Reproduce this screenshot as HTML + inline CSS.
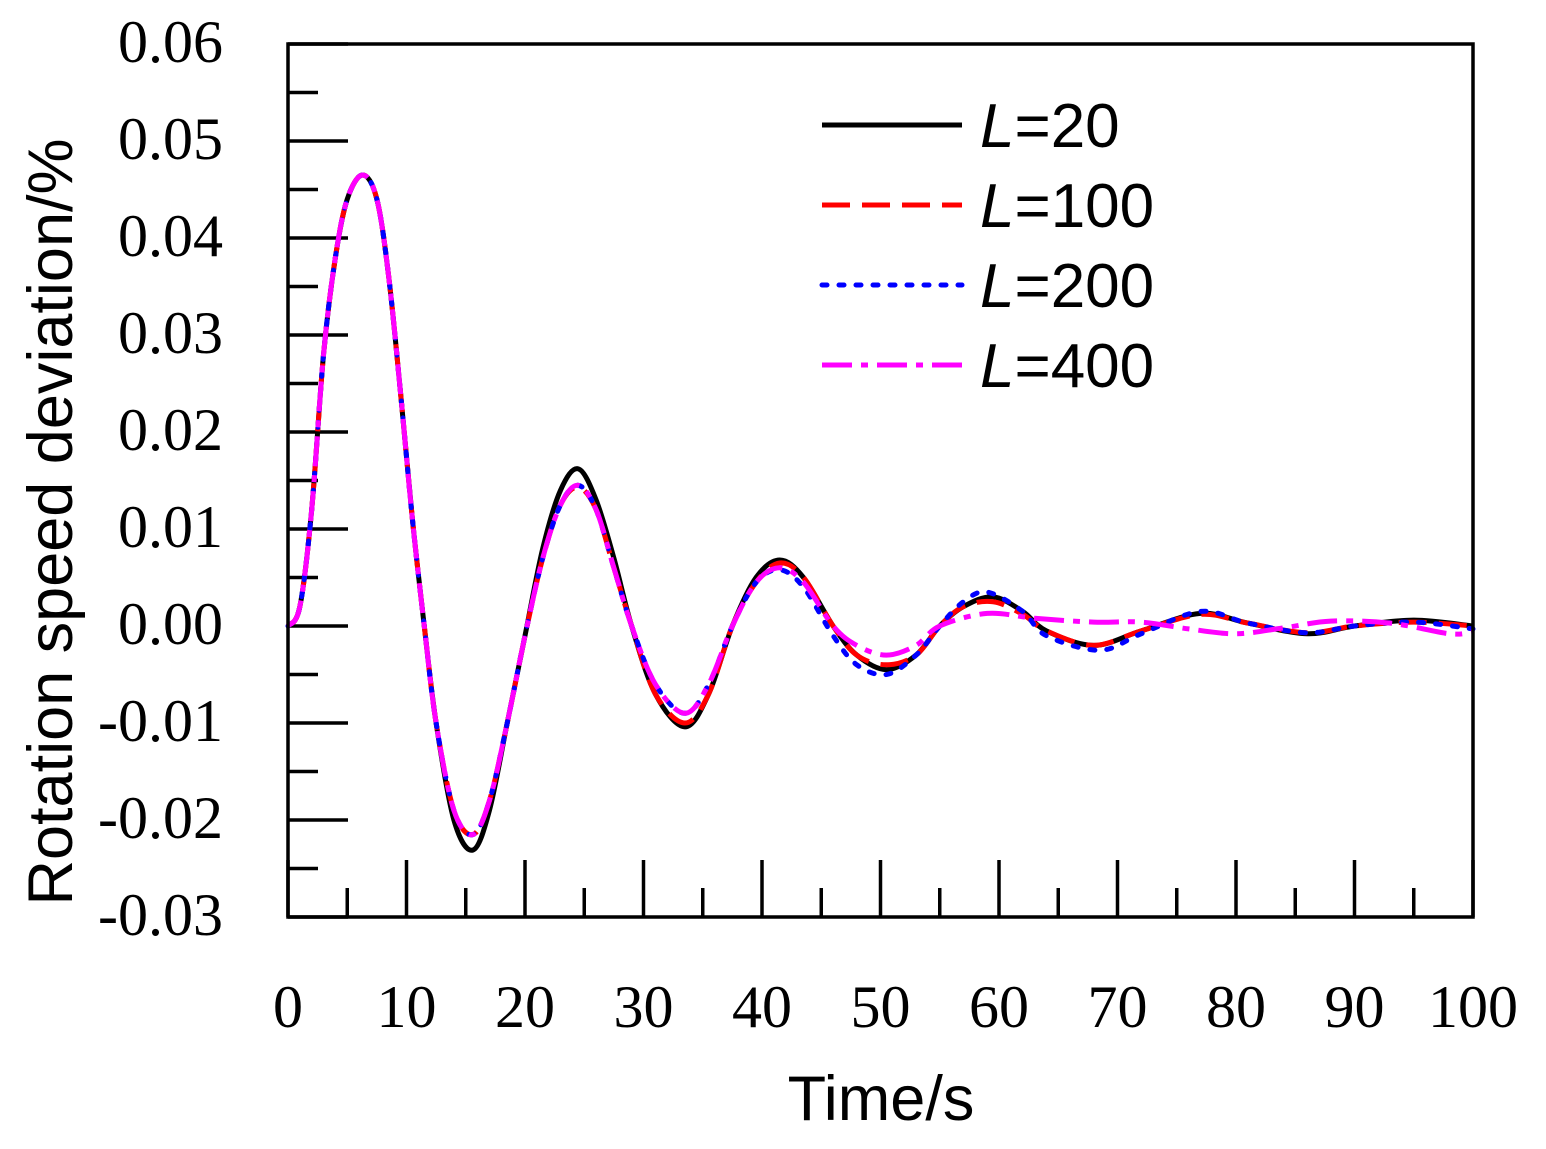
<!DOCTYPE html>
<html><head><meta charset="utf-8"><style>
html,body{margin:0;padding:0;background:#fff;}
svg{display:block;}
</style></head><body>
<svg id="chart" width="1546" height="1149" xmlns="http://www.w3.org/2000/svg">
<rect x="0" y="0" width="1546" height="1149" fill="#fff"/>
<g id="grid"></g>
<g id="series"></g>
<rect x="288" y="44" width="1185" height="873" fill="none" stroke="#000" stroke-width="3.5"/>
<g id="legend"></g>
<text x="881" y="1120" font-family="Liberation Sans, sans-serif" font-size="63" text-anchor="middle">Time/s</text>
<text transform="translate(72,522) rotate(-90)" font-family="Liberation Sans, sans-serif" font-size="63" text-anchor="middle">Rotation speed deviation/%</text>
</svg>
<script>
const xTicks = [0,10,20,30,40,50,60,70,80,90,100];
const yTicks = [-0.03,-0.02,-0.01,0.00,0.01,0.02,0.03,0.04,0.05,0.06];
const yTickLabels = ["-0.03","-0.02","-0.01","0.00","0.01","0.02","0.03","0.04","0.05","0.06"];
const seriesNames = ["L=20","L=100","L=200","L=400"];
const t20 = [0,1,2,3,4,5,6.3,7.5,8.5,9.5,10.5,11.5,12.5,14,15.6,17,18.5,20,21.5,23,24.5,26,27.5,29,31,33.5,35.5,37.5,39.5,41.5,43.5,46,48,50.5,53,55,57,59.5,62,64,68,72,77,81,86,90,95,100];
const v20 = [0,0.002,0.012,0.028,0.038,0.044,0.0465,0.044,0.036,0.024,0.011,0.0,-0.010,-0.020,-0.0231,-0.019,-0.010,-0.001,0.008,0.014,0.0162,0.013,0.007,0.0,-0.007,-0.0104,-0.007,0.0,0.005,0.0068,0.005,0.0,-0.003,-0.0045,-0.003,0.0,0.002,0.003,0.0015,-0.0005,-0.002,-0.0005,0.0013,0.0003,-0.0008,0.0,0.0006,0.0];
const t100 = [0,1,2,3,4,5,6.3,7.5,8.5,9.5,10.5,11.5,12.5,14,15.6,17,18.5,20,21.5,23,24.5,26,27.5,29,31,33.5,35.5,37.5,39.5,41.5,43.5,46,48,50.5,53,55,57,59.5,62,64,68,72,77,81,86,90,95,100];
const v100 = [0,0.002,0.012,0.028,0.038,0.044,0.0465,0.044,0.036,0.024,0.011,0.0,-0.010,-0.019,-0.0215,-0.018,-0.010,-0.001,0.007,0.0125,0.0143,0.012,0.006,0.0,-0.007,-0.0100,-0.007,0.0,0.0045,0.0065,0.005,0.0,-0.003,-0.0040,-0.003,0.0,0.002,0.0025,0.0012,-0.0005,-0.002,-0.0005,0.0012,0.0003,-0.0007,0.0,0.0004,0.0];
const t200 = [0,1,2,3,4,5,6.3,7.5,8.5,9.5,10.5,11.5,12.5,14,15.6,17,18.5,20,21.5,23,24.5,26,27.5,29,31,33.5,35.5,37.5,39.5,41.5,43.5,46,48,50.5,53,55,57,59,62,64,68.5,72,77,81,86,90,95,100];
const v200 = [0,0.002,0.012,0.028,0.038,0.044,0.0465,0.044,0.036,0.024,0.011,0.0,-0.010,-0.019,-0.0215,-0.018,-0.010,-0.001,0.007,0.0125,0.0145,0.012,0.006,0.0,-0.006,-0.0090,-0.006,0.0,0.0045,0.0058,0.004,-0.001,-0.004,-0.0050,-0.003,0.0,0.0025,0.0035,0.0015,-0.001,-0.0025,-0.0008,0.0015,0.0003,-0.0007,0.0,0.0004,-0.0003];
const t400 = [0,1,2,3,4,5,6.3,7.5,8.5,9.5,10.5,11.5,12.5,14,15.6,17,18.5,20,21.5,23,24.5,26,27.5,29,31,33.5,35.5,37.5,39.5,41.5,43.5,46,48,50.5,53,55,59,63,68,72,76,80,84,88,93,98,100];
const v400 = [0,0.002,0.012,0.028,0.038,0.044,0.0465,0.044,0.036,0.024,0.011,0.0,-0.010,-0.019,-0.0215,-0.018,-0.010,-0.001,0.007,0.0125,0.0145,0.012,0.006,0.0,-0.006,-0.0090,-0.006,0.0,0.0045,0.0060,0.0045,0.0,-0.002,-0.0030,-0.002,0.0,0.0013,0.0008,0.0004,0.0004,-0.0003,-0.0008,-0.0002,0.0005,0.0003,-0.0008,-0.0006];
const styles = [
 {c:"#000",d:""},
 {c:"#ff0000",d:"28 12"},
 {c:"#0000ff",d:"5 12"},
 {c:"#ff00ff",d:"30 9 7 9"}
];
const X = t => 288 + t*(1185/100);
const Y = v => 626 - v*9700;
const NS = "http://www.w3.org/2000/svg";
const grid = document.getElementById('grid');
function mk(tag, attrs, parent){const e=document.createElementNS(NS,tag);for(const k in attrs)e.setAttribute(k,attrs[k]);parent.appendChild(e);return e;}
for(let i=0;i<yTicks.length;i++){
  const y=Y(yTicks[i]);
  const l=mk('line',{x1:288,x2:348,y1:y,y2:y,stroke:'#000','stroke-width':3.5},grid);
  
  
  if(i<yTicks.length-1){
    const ym=Y(yTicks[i]+0.005);
    const m=mk('line',{x1:288,x2:318,y1:ym,y2:ym,stroke:'#000','stroke-width':3.5},grid);
    
    
  }
  const t=mk('text',{x:223,y:y+18,'text-anchor':'end','font-family':'Liberation Serif, serif','font-size':60},grid);
  t.textContent=yTickLabels[i];
  
  
}
for(let i=0;i<xTicks.length;i++){
  const x=X(xTicks[i]);
  const l=mk('line',{x1:x,x2:x,y1:917,y2:860,stroke:'#000','stroke-width':3.5},grid);
  
  
  if(i<xTicks.length-1){
    const xm=X(xTicks[i]+5);
    const m=mk('line',{x1:xm,x2:xm,y1:917,y2:888,stroke:'#000','stroke-width':3.5},grid);
    
    
  }
  const t=mk('text',{x:x,y:1027,'text-anchor':'middle','font-family':'Liberation Serif, serif','font-size':60},grid);
  t.textContent=String(xTicks[i]);
  
  
}
function pathFrom(ts,vs){
  const p=ts.map((t,i)=>[X(t),Y(vs[i])]);
  let d=`M${p[0][0]},${p[0][1]}`;
  for(let i=0;i<p.length-1;i++){
    const p0=p[Math.max(0,i-1)],p1=p[i],p2=p[i+1],p3=p[Math.min(p.length-1,i+2)];
    const c1=[p1[0]+(p2[0]-p0[0])/6,p1[1]+(p2[1]-p0[1])/6];
    const c2=[p2[0]-(p3[0]-p1[0])/6,p2[1]-(p3[1]-p1[1])/6];
    d+=` C${c1[0]},${c1[1]} ${c2[0]},${c2[1]} ${p2[0]},${p2[1]}`;
  }
  return d;
}
const data=[[t20,v20],[t100,v100],[t200,v200],[t400,v400]];
const sg=document.getElementById('series');
const lg=document.getElementById('legend');
const names=['series-l20','series-l100','series-l200','series-l400'];
for(let i=0;i<4;i++){
  const p=mk('path',{d:pathFrom(data[i][0],data[i][1]),fill:'none',stroke:styles[i].c,'stroke-width':5,'stroke-dasharray':styles[i].d,'stroke-linecap':i===2?'round':'butt'},sg);
  
  
  const ly=125+i*80;
  const ll=mk('line',{x1:822,x2:962,y1:ly,y2:ly,stroke:styles[i].c,'stroke-width':5,'stroke-dasharray':styles[i].d,'stroke-linecap':i===2?'round':'butt'},lg);
  
  
  const t=mk('text',{x:980,y:ly+22,'font-family':'Liberation Sans, sans-serif','font-size':62},lg);
  t.innerHTML='<tspan font-style="italic">L</tspan>'+seriesNames[i].slice(1);
  
  
}
</script>
</body></html>
